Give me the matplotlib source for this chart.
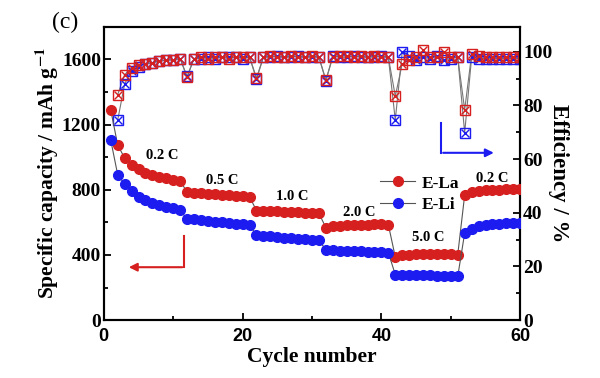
import numpy as np
import matplotlib.pyplot as plt
from matplotlib.ticker import MultipleLocator

# capacity data, cycles 1-60
cycles = np.arange(1, 61)
cap_la = [1290, 1075, 995, 955, 925, 905, 890, 880, 870, 862, 856,
          785, 780, 778, 775, 772, 770, 768, 765, 762, 758,
          672, 670, 668, 667, 665, 664, 662, 660, 658, 655,
          568, 575, 580, 582, 584, 585, 586, 588, 588, 586,
          388, 398, 402, 404, 405, 405, 404, 404, 403, 402,
          768, 785, 792, 796, 798, 800, 802, 802, 803]
cap_li = [1105, 893, 835, 792, 758, 737, 717, 707, 697, 687, 673,
          622, 618, 614, 610, 605, 601, 598, 592, 588, 582,
          522, 518, 514, 510, 506, 503, 500, 497, 494, 490,
          432, 428, 426, 424, 423, 422, 420, 419, 417, 414,
          280, 279, 278, 277, 276, 275, 274, 272, 270, 268,
          535, 562, 578, 585, 590, 593, 595, 597, 598]

# coulombic efficiency, cycles 2-60
eff_cycles = np.arange(2, 61)
eff_la = [84, 91.5, 94, 95, 95.5, 96, 96.5, 97, 97, 97.5,
          90.5, 97.5, 98, 97.5, 98, 98, 97.5, 98, 98, 98,
          90.3, 98, 98.5, 98, 98, 98.5, 98, 98, 98.5, 98,
          89.5, 98, 98.5, 98.5, 98, 98.5, 98, 98.5, 98, 98,
          83.5, 95.5, 97, 98, 100.5, 98, 98, 100, 98, 98,
          78.4, 99, 98.5, 98, 98, 98, 98, 98, 98]
eff_li = [74.5, 88, 93, 94.5, 95.5, 96, 96.5, 97, 97, 97.5,
          90.8, 97.5, 97.5, 98, 97.5, 98, 98, 98, 97.5, 98,
          89.8, 98, 98, 98.5, 98, 98, 98.5, 98, 98, 98,
          89.2, 98.5, 98, 98, 98.5, 98, 98, 98, 98.5, 98,
          74.6, 100, 98.5, 97, 98, 97.5, 98.5, 97, 97.5, 98,
          69.8, 98, 97.5, 97.5, 97.5, 97.5, 97.5, 97.5, 97.5]

rate_labels = ['0.2 C', '0.5 C', '1.0 C', '2.0 C', '5.0 C', '0.2 C']
rate_pos = [(8.4, 1010), (17.0, 855), (27.2, 758), (36.8, 661), (46.7, 505), (56.0, 869)]

red = '#d62020'
blue = '#1c1cf0'
serif = 'Liberation Serif'

plt.rcParams['font.family'] = serif
plt.rcParams['font.weight'] = 'bold'
plt.rcParams['mathtext.fontset'] = 'stix'

fig = plt.figure(figsize=(6, 3.78), dpi=100)
ax = fig.add_axes([0.173, 0.153, 0.694, 0.776])
ax2 = ax.twinx()

# efficiency on right axis
ax2.plot(eff_cycles, eff_la, color='#777777', lw=0.8, zorder=1)
ax2.plot(eff_cycles, eff_li, color='#777777', lw=0.8, zorder=1)
for eff, c in [(eff_li, blue), (eff_la, red)]:
    ax2.plot(eff_cycles, eff, ls='none', marker='s', ms=6.5, mfc='none', mec=c, mew=1.0)
    ax2.plot(eff_cycles, eff, ls='none', marker='x', ms=5.5, mec=c, mew=1.0)

# capacity on left axis
ax.plot(cycles, cap_la, color='#555555', lw=0.8, marker='o', ms=7,
        mfc=red, mec=red, label='E-La', zorder=3)
ax.plot(cycles, cap_li, color='#555555', lw=0.8, marker='o', ms=7,
        mfc=blue, mec=blue, label='E-Li', zorder=3)
ax.set_zorder(ax2.get_zorder() + 1)
ax.patch.set_visible(False)

for t, (x, y) in zip(rate_labels, rate_pos):
    ax.text(x, y, t, ha='center', va='center', fontsize=10.5, fontweight='bold')

# red arrow -> left axis
ax.plot([11.6, 11.6], [515, 325], color=red, lw=1.5)
ax.annotate('', xy=(3.2, 325), xytext=(11.7, 325),
            arrowprops=dict(arrowstyle='-|>', color=red, lw=1.5, mutation_scale=12))
# blue arrow -> right axis
ax.plot([48.6, 48.6], [1210, 1027], color=blue, lw=1.5)
ax.annotate('', xy=(56.6, 1027), xytext=(48.5, 1027),
            arrowprops=dict(arrowstyle='-|>', color=blue, lw=1.5, mutation_scale=12))

ax.set_xlim(0, 60)
ax.set_ylim(0, 1800)
ax2.set_ylim(0, 109.3)
ax.xaxis.set_major_locator(MultipleLocator(20))
ax.xaxis.set_minor_locator(MultipleLocator(10))
ax.yaxis.set_major_locator(MultipleLocator(400))
ax.yaxis.set_minor_locator(MultipleLocator(200))
ax2.yaxis.set_major_locator(MultipleLocator(20))
ax2.yaxis.set_minor_locator(MultipleLocator(10))

ax.tick_params(axis='both', which='both', direction='in', top=False, right=False, width=1.3)
ax.tick_params(which='major', length=5)
ax.tick_params(which='minor', length=3)
ax.tick_params(axis='y', pad=2)
ax.tick_params(axis='x', pad=6)
ax2.tick_params(which='both', direction='in', width=1.3)
ax2.tick_params(which='major', length=5, pad=2)
ax2.tick_params(which='minor', length=3)

ax.set_yticks([0, 400, 800, 1200, 1600])
ax.set_yticklabels(['0', '400', '800', '1200', '1600'], fontsize=14, fontweight='bold')
ax2.set_yticks([0, 20, 40, 60, 80, 100])
ax2.set_yticklabels(['0', '20', '40', '60', '80', '100'], fontsize=14, fontweight='bold')
ax.set_xticks([0, 20, 40, 60])
ax.set_xticklabels(['0', '20', '40', '60'], fontsize=13, fontweight='bold',
                   family='Liberation Sans')

for sp in ax.spines.values():
    sp.set_linewidth(1.5)
for sp in ax2.spines.values():
    sp.set_linewidth(1.5)

ax.set_xlabel('Cycle number', fontsize=15.5, fontweight='bold', labelpad=1)
ax.set_ylabel(r'Specific capacity / mAh g$^{\mathbf{-1}}$', fontsize=15.5, fontweight='bold', labelpad=1)
ax2.set_ylabel('Efficiency / %', fontsize=16.5, fontweight='bold', rotation=270, labelpad=12)

ax.legend(loc='upper left', bbox_to_anchor=(0.635, 0.535), frameon=False,
          prop={'family': serif, 'weight': 'bold', 'size': 12.5},
          handlelength=2.0, handletextpad=0.4, labelspacing=0.3, borderpad=0.2)

fig.text(0.087, 0.94, '(c)', fontsize=17, fontweight='normal', ha='left', va='center')

fig.savefig('out.png', dpi=100)
